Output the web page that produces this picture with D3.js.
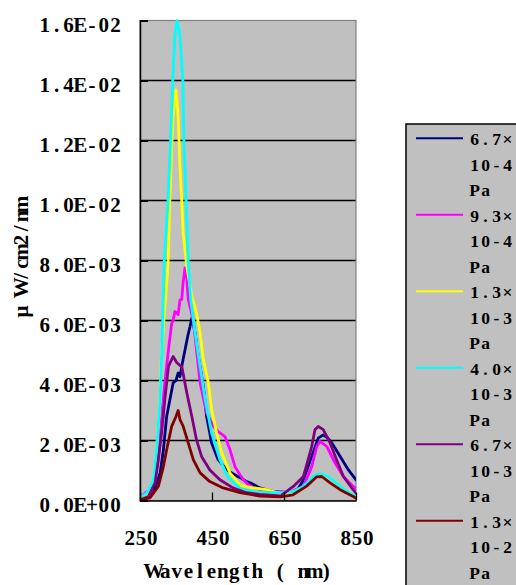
<!DOCTYPE html>
<html>
<head>
<meta charset="utf-8">
<script src="https://cdn.jsdelivr.net/npm/d3@7"></script>
<style>
  html, body { margin: 0; padding: 0; background: #fff; }
  svg { display: block; }
</style>
</head>
<body>
<div id="chart"></div>
<script>
// values in units of 1e-3 uW/cm2/nm, [wavelength nm, value]
const navy = [[250, 0.02], [273, 0.1], [287, 0.26], [306, 0.92], [315, 1.69], [324, 2.8], [333, 3.36], [342, 3.92], [350, 4.0], [356, 4.25], [361, 4.13], [368, 4.6], [375, 5.02], [383, 5.5], [389, 5.8], [394, 6.08], [398, 5.9], [403, 5.58], [412, 4.8], [426, 3.8], [435, 2.8], [449, 1.92], [467, 1.36], [491, 1.02], [519, 0.82], [530, 0.75], [546, 0.63], [556, 0.59], [583, 0.42], [619, 0.3], [667, 0.26], [690, 0.4], [704, 0.69], [727, 1.47], [745, 2.08], [759, 2.19], [770, 2.1], [783, 1.92], [806, 1.47], [829, 1.02], [850, 0.69]]
const magenta = [[250, 0.15], [259, 0.19], [280, 0.4], [292, 0.79], [301, 1.69], [310, 2.8], [319, 3.92], [329, 5.02], [338, 5.9], [342, 6.0], [347, 6.3], [356, 6.2], [361, 6.69], [366, 6.7], [370, 7.3], [375, 7.75], [380, 7.4], [384, 6.7], [398, 6.0], [407, 5.02], [417, 3.92], [435, 2.92], [454, 2.47], [467, 2.3], [486, 2.13], [500, 1.69], [514, 1.13], [528, 0.85], [537, 0.7], [556, 0.47], [583, 0.36], [619, 0.3], [667, 0.26], [704, 0.47], [727, 1.13], [741, 1.8], [750, 1.97], [769, 1.8], [792, 1.25], [815, 0.8], [842, 0.47], [850, 0.4]]
const yellow = [[250, 0.05], [269, 0.19], [287, 0.69], [296, 1.69], [306, 3.36], [310, 5.0], [321, 6.7], [328, 7.9], [333, 10.02], [338, 11.69], [342, 12.8], [350, 13.69], [356, 12.8], [361, 11.1], [366, 10.0], [370, 8.9], [380, 7.8], [394, 6.8], [407, 6.25], [417, 5.58], [426, 4.69], [440, 3.92], [449, 3.02], [463, 2.25], [477, 1.58], [500, 0.92], [528, 0.5], [564, 0.42], [602, 0.36], [630, 0.26], [667, 0.19], [700, 0.4], [730, 0.75], [750, 0.9], [773, 0.8], [806, 0.47], [842, 0.2], [850, 0.15]]
const cyan = [[250, 0.1], [269, 0.25], [287, 0.69], [296, 1.69], [306, 3.36], [312, 5.5], [317, 7.9], [328, 10.02], [335, 12.0], [341, 14.0], [347, 15.5], [353, 16.0], [361, 15.5], [369, 14.0], [372, 12.0], [378, 10.0], [384, 7.9], [391, 6.7], [403, 5.58], [417, 4.46], [431, 3.36], [449, 2.25], [472, 1.36], [494, 0.79], [528, 0.4], [564, 0.3], [602, 0.26], [647, 0.26], [675, 0.3], [704, 0.47], [731, 0.8], [750, 0.91], [773, 0.8], [806, 0.47], [842, 0.19], [850, 0.15]]
const purple = [[250, 0.02], [273, 0.13], [292, 0.59], [301, 1.36], [310, 2.26], [319, 3.36], [329, 4.47], [342, 4.8], [352, 4.6], [361, 4.5], [366, 4.47], [380, 3.59], [394, 2.8], [407, 2.02], [421, 1.47], [444, 1.02], [472, 0.69], [508, 0.42], [546, 0.26], [583, 0.2], [640, 0.15], [676, 0.47], [704, 0.8], [717, 1.36], [727, 1.8], [736, 2.36], [745, 2.47], [759, 2.36], [778, 1.92], [796, 1.36], [815, 0.8], [842, 0.36], [850, 0.25]]
const darkRed = [[250, 0.02], [278, 0.09], [301, 0.47], [315, 1.13], [324, 1.69], [338, 2.47], [350, 2.8], [356, 3.0], [361, 2.7], [370, 2.47], [384, 1.92], [398, 1.36], [417, 0.92], [444, 0.63], [481, 0.42], [528, 0.26], [583, 0.15], [640, 0.12], [675, 0.19], [712, 0.47], [741, 0.79], [755, 0.8], [778, 0.59], [806, 0.36], [842, 0.13], [850, 0.08]]

const seriesLabels = [["6.7×", "10-4", "Pa"], ["9.3×", "10-4", "Pa"], ["1.3×", "10-3", "Pa"], ["4.0×", "10-3", "Pa"], ["6.7×", "10-3", "Pa"], ["1.3×", "10-2", "Pa"]]
const seriesData = [navy, magenta, yellow, cyan, purple, darkRed]
const colors = ["#000080", "#ff00ff", "#ffff00", "#00ffff", "#800080", "#800000"]

const xTicks = [250, 450, 650, 850]
const yTicks = [0, 2, 4, 6, 8, 10, 12, 14, 16]
const yTickLabels = ["0.0E+00", "2.0E-03", "4.0E-03", "6.0E-03", "8.0E-03", "1.0E-02", "1.2E-02", "1.4E-02", "1.6E-02"]

const width = 516
const height = 585
const plot = {left: 140, right: 356, top: 20.5, bottom: 500.5}

const x = d3.scaleLinear().domain([250, 850]).range([plot.left, plot.right])
const y = d3.scaleLinear().domain([0, 16]).range([plot.bottom, plot.top])

// fixed-pitch text: every character sits centred in its own cell
function cellText(parent, str, anchorX, baseY, pitch, align, size) {
  const chars = Array.from(str)
  let first
  if (align === "end") first = anchorX - pitch / 2 - (chars.length - 1) * pitch
  else if (align === "middle") first = anchorX - (chars.length - 1) * pitch / 2
  else first = anchorX + pitch / 2
  return parent.append("text")
    .attr("x", chars.map((c, i) => (first + i * pitch).toFixed(1)).join(" "))
    .attr("y", baseY)
    .attr("text-anchor", "middle")
    .style("font-family", '"Liberation Serif"')
    .style("font-weight", "bold")
    .style("font-size", size + "px")
    .attr("fill", "#000")
    .text(str)
}

const svg = d3.select("#chart").append("svg")
  .attr("width", width)
  .attr("height", height)
  .attr("viewBox", `0 0 ${width} ${height}`)

svg.append("rect")
  .attr("x", plot.left)
  .attr("y", plot.top)
  .attr("width", plot.right - plot.left)
  .attr("height", plot.bottom - plot.top)
  .attr("fill", "#c0c0c0")

svg.append("g")
  .selectAll("line")
  .data(yTicks.filter(d => d > 0 && d < 16))
  .join("line")
  .attr("x1", plot.left)
  .attr("x2", plot.right)
  .attr("y1", d => y(d))
  .attr("y2", d => y(d))
  .attr("stroke", "#000")
  .attr("stroke-width", 1.3)

svg.append("rect")
  .attr("x", plot.left)
  .attr("y", plot.top)
  .attr("width", plot.right - plot.left)
  .attr("height", plot.bottom - plot.top)
  .attr("fill", "none")
  .attr("stroke", "#808080")
  .attr("stroke-width", 1.2)

const line = d3.line()
  .x(d => x(d[0]))
  .y(d => y(d[1]))

svg.append("defs").append("clipPath")
  .attr("id", "clip")
  .append("rect")
  .attr("x", plot.left)
  .attr("y", plot.top - 1)
  .attr("width", plot.right - plot.left)
  .attr("height", plot.bottom - plot.top + 1)

const lines = svg.append("g").attr("clip-path", "url(#clip)")
seriesData.forEach((points, i) => {
  lines.append("path")
    .datum(points)
    .attr("fill", "none")
    .attr("stroke", colors[i])
    .attr("stroke-width", 2.8)
    .attr("stroke-linejoin", "round")
    .attr("stroke-linecap", "round")
    .attr("d", line)
})

// axes
svg.append("g")
  .attr("transform", `translate(${plot.left},0)`)
  .call(d3.axisLeft(y).tickValues(yTicks).tickSize(-8).tickFormat(""))
  .call(g => g.selectAll("line").attr("stroke", "#000").attr("stroke-width", 2))
  .call(g => g.select(".domain").attr("stroke", "#000").attr("stroke-width", 1.5))

svg.append("g")
  .attr("transform", `translate(0,${plot.bottom})`)
  .call(d3.axisBottom(x).tickValues(xTicks).tickSize(-8).tickSizeOuter(0).tickFormat(""))
  .call(g => g.selectAll("line").attr("stroke", "#000").attr("stroke-width", 1.3))
  .call(g => g.select(".domain").attr("stroke", "#000").attr("stroke-width", 1.5))

yTicks.forEach((t, i) => {
  cellText(svg, yTickLabels[i], 121.5, y(t) + 11, 11.8, "end", 21)
})

xTicks.forEach(t => {
  cellText(svg, String(t), x(t) + 1, 545, 11.3, "middle", 21)
})

cellText(svg, "Wavelength ( nm)", 240, 577.5, 11.5, "middle", 21)

const yTitle = svg.append("g").attr("transform", "translate(28,258) rotate(-90)")
cellText(yTitle, "μ W/cm2/nm", 0, 0, 11.9, "middle", 21)

// legend
const legend = svg.append("g")
legend.append("rect")
  .attr("x", 406)
  .attr("y", 124)
  .attr("width", 140)
  .attr("height", 500)
  .attr("fill", "#c0c0c0")
  .attr("stroke", "#000")
  .attr("stroke-width", 1.5)

seriesLabels.forEach((lab, i) => {
  const top = 138.3 + i * 76.5
  legend.append("line")
    .attr("x1", 416)
    .attr("x2", 463)
    .attr("y1", top)
    .attr("y2", top)
    .attr("stroke", colors[i])
    .attr("stroke-width", 2)
  lab.forEach((txt, j) => {
    cellText(legend, txt, 469, top + 6.7 + j * 25.5, 11, "start", 17.5)
  })
})
</script>
</body>
</html>
